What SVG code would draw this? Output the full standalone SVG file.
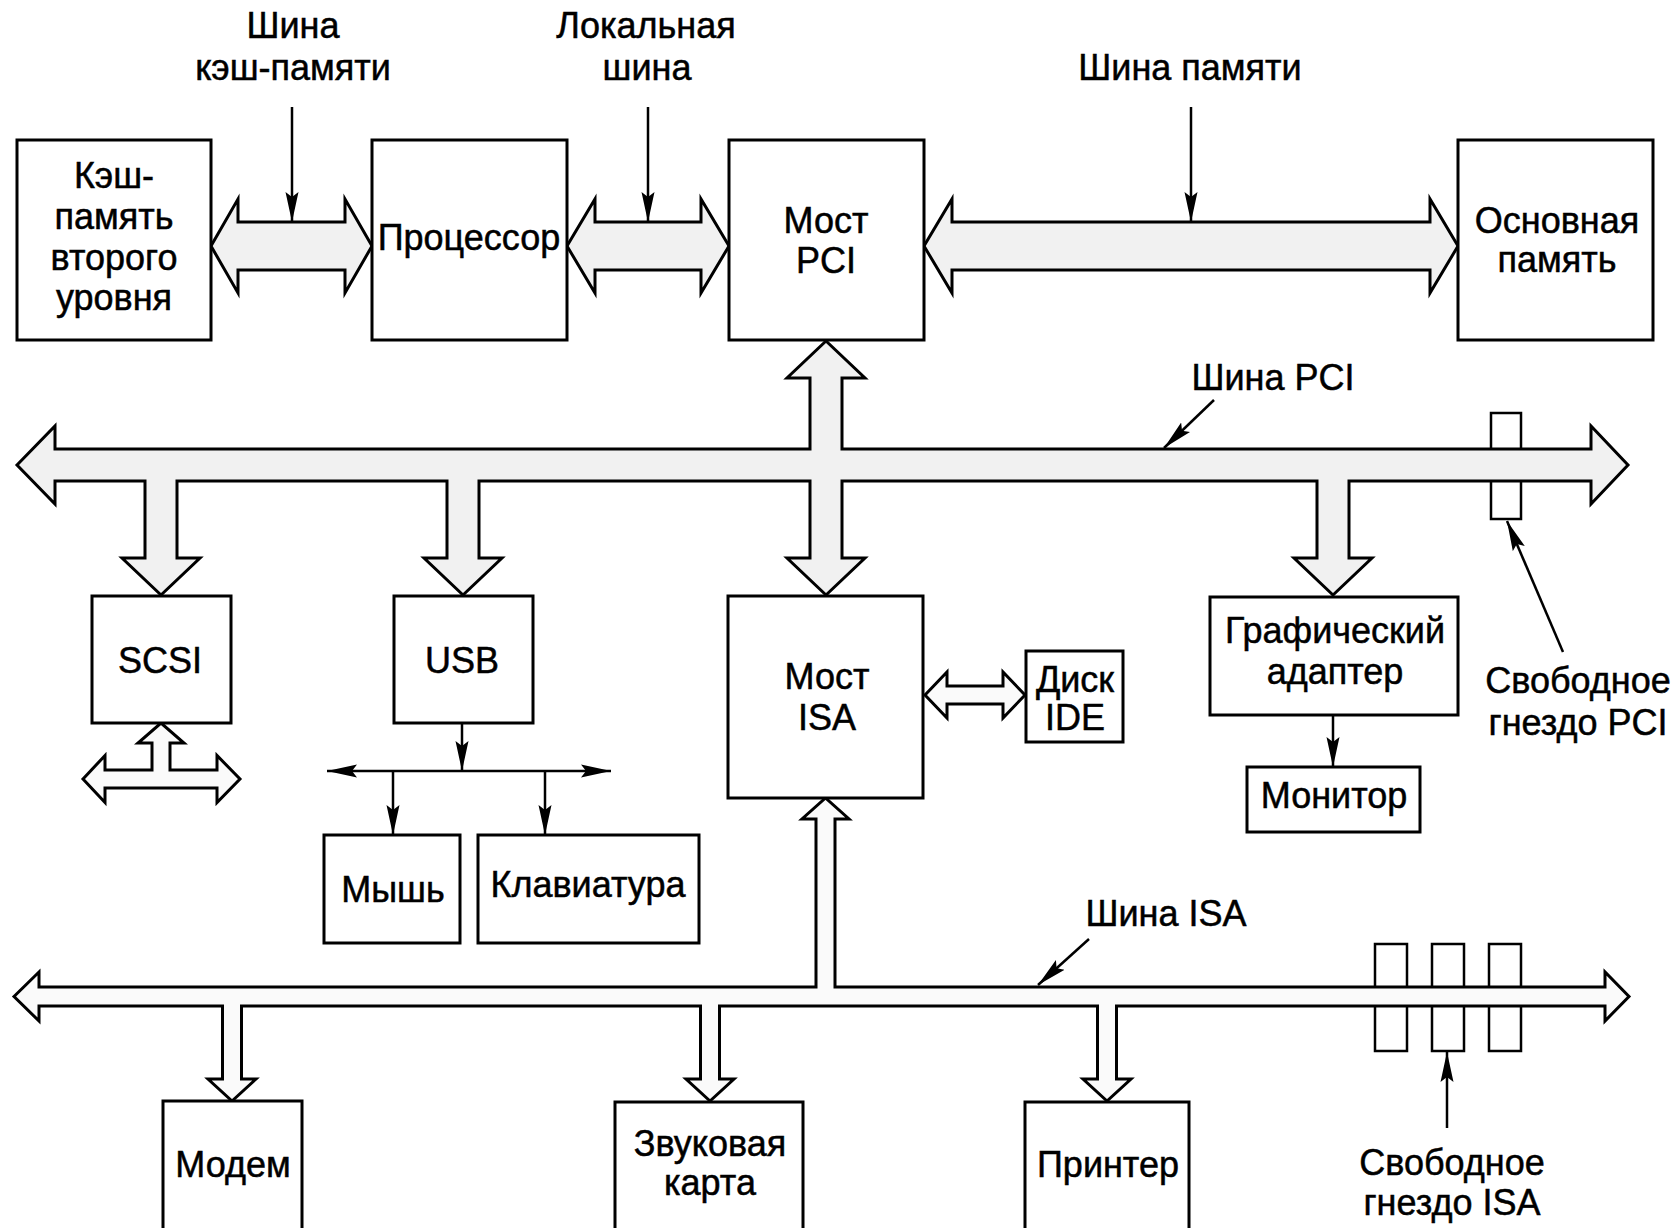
<svg xmlns="http://www.w3.org/2000/svg" width="1677" height="1228" viewBox="0 0 1677 1228">
  <defs>
    <marker id="head" markerUnits="userSpaceOnUse" viewBox="0 0 30 14" refX="30" refY="7" markerWidth="30" markerHeight="14" orient="auto-start-reverse">
      <path d="M0,0.5 L30,7 L0,13.5 L5,7 Z" fill="#000"/>
    </marker>
    <style>
      .box { fill: #fff; stroke: #000; stroke-width: 3; }
      .slot { fill: #fff; stroke: #000; stroke-width: 2.5; }
      .bus { fill: #f1f1f1; stroke: #000; stroke-width: 3; stroke-linejoin: miter; }
      .bus2 { fill: #fafafa; stroke: #000; stroke-width: 3; stroke-linejoin: miter; }
      .wire { fill: none; stroke: #000; stroke-width: 2.5; marker-end: url(#head); }
      .wire2 { fill: none; stroke: #000; stroke-width: 2.5; marker-start: url(#head); marker-end: url(#head); }
      text { font-family: "Liberation Sans", Arial, sans-serif; font-size: 36px; text-anchor: middle; fill: #000; stroke: #000; stroke-width: 0.5; }
    </style>
  </defs>

  <!-- slots sit under the buses so the bus band passes over them -->
  <g id="pci-slot">
    <rect class="slot" x="1491" y="413" width="30" height="106"/>
  </g>
  <g id="isa-slots">
    <rect class="slot" x="1375" y="944" width="32" height="107"/>
    <rect class="slot" x="1432" y="944" width="32" height="107"/>
    <rect class="slot" x="1489" y="944" width="32" height="107"/>
  </g>

  <g id="connectors">
    <!-- top row buses -->
    <polygon class="bus" points="211,246 238,199 238,222 345,222 345,199 372,246 345,293 345,270 238,270 238,293"/>
    <polygon class="bus" points="567,246 595,199 595,222 701,222 701,199 729,246 701,293 701,270 595,270 595,293"/>
    <polygon class="bus" points="924,246 952,199 952,222 1430,222 1430,199 1458,246 1430,293 1430,270 952,270 952,293"/>

    <!-- PCI bus with its branches -->
    <path class="bus" d="M17,465 L55,426 L55,449 L810,449 L810,378 L787,378 L826,341 L865,378 L842,378 L842,449 L1591,449 L1591,426 L1628,465 L1591,504 L1591,481 L1349,481 L1349,558 L1372,558 L1333,595 L1294,558 L1317,558 L1317,481 L842,481 L842,558 L865,558 L826,595 L787,558 L810,558 L810,481 L479,481 L479,558 L502,558 L463,595 L424,558 L447,558 L447,481 L177,481 L177,558 L200,558 L161,595 L122,558 L145,558 L145,481 L55,481 L55,504 Z"/>

    <!-- ISA bus with its branches -->
    <path class="bus2" d="M14,996.5 L39,972 L39,987 L816,987 L816,819 L802,819 L825.5,798 L849,819 L835,819 L835,987 L1605,987 L1605,972 L1629,996.5 L1605,1021 L1605,1006 L1116.5,1006 L1116.5,1079 L1131,1079 L1107,1101 L1083,1079 L1097.5,1079 L1097.5,1006 L719.5,1006 L719.5,1079 L734,1079 L710,1101 L686,1079 L700.5,1079 L700.5,1006 L241.5,1006 L241.5,1079 L256,1079 L232,1101 L208,1079 L222.5,1079 L222.5,1006 L39,1006 L39,1021 Z"/>

    <!-- SCSI cable -->
    <path class="bus2" d="M83,779 L105,755.5 L105,770 L152,770 L152,743 L138,743 L161,723 L184,743 L170,743 L170,770 L217,770 L217,755.5 L240,779 L217,802.5 L217,788 L105,788 L105,802.5 Z"/>

    <!-- IDE link -->
    <polygon class="bus2" points="925,695 947,672 947,686 1003,686 1003,672 1025,695 1003,718 1003,704 947,704 947,718"/>

    <!-- label pointers -->
    <line class="wire" x1="292" y1="107" x2="292" y2="222"/>
    <line class="wire" x1="648" y1="107" x2="648" y2="222"/>
    <line class="wire" x1="1191" y1="107" x2="1191" y2="222"/>
    <line class="wire" x1="1214" y1="400" x2="1164" y2="448"/>
    <line class="wire" x1="1563" y1="652" x2="1507" y2="521"/>
    <line class="wire" x1="1089" y1="939" x2="1038" y2="985"/>
    <line class="wire" x1="1447" y1="1128" x2="1447" y2="1052"/>

    <!-- USB tree -->
    <line class="wire" x1="462" y1="724" x2="462" y2="771"/>
    <line class="wire2" x1="327" y1="771" x2="611" y2="771"/>
    <line class="wire" x1="393" y1="771" x2="393" y2="835"/>
    <line class="wire" x1="545" y1="771" x2="545" y2="835"/>

    <!-- graphics to monitor -->
    <line class="wire" x1="1333" y1="716" x2="1333" y2="767"/>
  </g>

  <g id="bus-labels">
    <text x="293" y="38">Шина</text>
    <text x="293" y="80">кэш-памяти</text>
    <text x="646" y="38">Локальная</text>
    <text x="647" y="80">шина</text>
    <text x="1190" y="80">Шина памяти</text>
    <text x="1273" y="390">Шина PCI</text>
    <text x="1166" y="926">Шина ISA</text>
    <text x="1578" y="693">Свободное</text>
    <text x="1578" y="735">гнездо PCI</text>
    <text x="1452" y="1175">Свободное</text>
    <text x="1452" y="1215">гнездо ISA</text>
  </g>

  <g id="cache">
    <rect class="box" x="17" y="140" width="194" height="200"/>
    <text x="114" y="188">Кэш-</text>
    <text x="114" y="229">память</text>
    <text x="114" y="270">второго</text>
    <text x="114" y="310">уровня</text>
  </g>
  <g id="cpu">
    <rect class="box" x="372" y="140" width="195" height="200"/>
    <text x="469" y="250">Процессор</text>
  </g>
  <g id="pci-bridge">
    <rect class="box" x="729" y="140" width="195" height="200"/>
    <text x="826" y="233">Мост</text>
    <text x="826" y="273">PCI</text>
  </g>
  <g id="main-memory">
    <rect class="box" x="1458" y="140" width="195" height="200"/>
    <text x="1557" y="233">Основная</text>
    <text x="1557" y="272">память</text>
  </g>
  <g id="scsi">
    <rect class="box" x="92" y="596" width="139" height="127"/>
    <text x="160" y="673">SCSI</text>
  </g>
  <g id="usb">
    <rect class="box" x="394" y="596" width="139" height="127"/>
    <text x="462" y="673">USB</text>
  </g>
  <g id="isa-bridge">
    <rect class="box" x="728" y="596" width="195" height="202"/>
    <text x="827" y="689">Мост</text>
    <text x="827" y="730">ISA</text>
  </g>
  <g id="ide-disk">
    <rect class="box" x="1026" y="651" width="97" height="91"/>
    <text x="1075" y="692">Диск</text>
    <text x="1075" y="730">IDE</text>
  </g>
  <g id="graphics">
    <rect class="box" x="1210" y="597" width="248" height="118"/>
    <text x="1335" y="643">Графический</text>
    <text x="1335" y="684">адаптер</text>
  </g>
  <g id="monitor">
    <rect class="box" x="1247" y="767" width="173" height="65"/>
    <text x="1334" y="808">Монитор</text>
  </g>
  <g id="mouse">
    <rect class="box" x="324" y="835" width="136" height="108"/>
    <text x="393" y="902">Мышь</text>
  </g>
  <g id="keyboard">
    <rect class="box" x="478" y="835" width="221" height="108"/>
    <text x="588" y="897">Клавиатура</text>
  </g>
  <g id="modem">
    <rect class="box" x="163" y="1101" width="139" height="140"/>
    <text x="233" y="1177">Модем</text>
  </g>
  <g id="sound">
    <rect class="box" x="615" y="1102" width="188" height="140"/>
    <text x="710" y="1156">Звуковая</text>
    <text x="710" y="1195">карта</text>
  </g>
  <g id="printer">
    <rect class="box" x="1025" y="1102" width="164" height="140"/>
    <text x="1108" y="1177">Принтер</text>
  </g>
</svg>
